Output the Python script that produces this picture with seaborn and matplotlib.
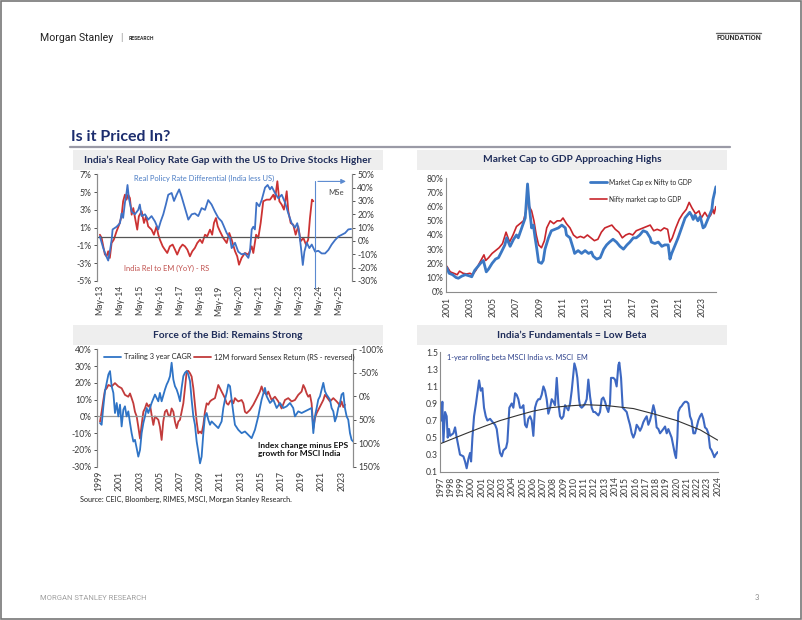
import numpy as np
import pandas as pd
import matplotlib
matplotlib.use("Agg")
import matplotlib.pyplot as plt
import seaborn as sns
from matplotlib.patches import Rectangle
from matplotlib.lines import Line2D

# ------------------------------------------------------------------ data
# Panel 1: India real policy rate gap (LS, %) and India rel. to EM YoY (RS, %)
p1_rate_dates = [2013.33, 2013.50, 2013.63, 2013.75, 2013.83, 2013.92, 2013.97, 2014.17, 2014.34, 2014.42,
                 2014.50, 2014.59, 2014.67, 2014.72, 2014.79, 2014.93, 2015.09, 2015.26, 2015.34, 2015.43,
                 2015.60, 2015.76, 2015.93, 2016.10, 2016.27, 2016.39, 2016.52, 2016.65, 2016.77, 2016.94,
                 2017.06, 2017.19, 2017.32, 2017.44, 2017.61, 2017.78, 2017.95, 2018.11, 2018.28, 2018.45,
                 2018.62, 2018.78, 2018.95, 2019.12, 2019.29, 2019.46, 2019.54, 2019.71, 2019.88, 2019.96,
                 2020.13, 2020.29, 2020.46, 2020.63, 2020.80, 2020.88, 2020.97, 2021.05, 2021.13, 2021.21,
                 2021.35, 2021.47, 2021.64, 2021.77, 2021.89, 2021.98, 2022.14, 2022.31, 2022.48, 2022.65,
                 2022.81, 2022.98, 2023.15, 2023.26, 2023.36, 2023.45, 2023.54, 2023.62, 2023.74, 2023.87,
                 2023.99, 2024.16, 2024.32, 2024.49, 2024.66, 2024.83, 2024.99, 2025.16, 2025.33, 2025.50,
                 2025.67, 2025.83, 2025.97]
p1_rate_vals = [0.0, -1.3, -2.1, -2.7, -1.7, -0.4, 0.8, 1.1, 1.5, 2.6,
                2.1, 3.8, 4.9, 5.8, 4.3, 2.8, 2.5, 3.0, 3.6, 2.3,
                2.5, 1.9, 2.3, 1.7, 0.8, 1.7, 2.5, 3.6, 4.7, 4.9,
                4.0, 4.7, 5.3, 4.5, 3.2, 1.9, 2.5, 2.6, 2.3, 3.2,
                3.0, 4.1, 3.6, 2.8, 2.1, 1.7, 1.3, 0.4, -0.2, -1.3,
                -0.7, -1.7, -2.0, -1.9, -2.4, -1.7, 0.8, 1.1, 0.8, 3.8,
                3.4, 4.1, 5.5, 5.8, 5.3, 5.6, 4.9, 4.3, 4.7, 3.8,
                2.6, 1.5, 1.0, 1.5, 0.4, -1.3, -3.2, -1.7, -0.7, -1.3,
                -0.9, -1.7, -1.6, -1.9, -1.9, -1.5, -0.9, -0.4, 0.0, 0.2,
                0.4, 0.8, 0.85]
p1_rel_dates = [2013.33, 2013.42, 2013.50, 2013.58, 2013.67, 2013.75, 2013.83, 2013.92, 2014.03, 2014.17,
                2014.30, 2014.42, 2014.50, 2014.59, 2014.67, 2014.75, 2014.84, 2014.93, 2015.01, 2015.13,
                2015.21, 2015.29, 2015.43, 2015.55, 2015.65, 2015.76, 2015.93, 2016.05, 2016.18, 2016.27,
                2016.35, 2016.49, 2016.60, 2016.72, 2016.85, 2016.99, 2017.11, 2017.22, 2017.36, 2017.49,
                2017.61, 2017.73, 2017.86, 2017.98, 2018.11, 2018.23, 2018.37, 2018.48, 2018.62, 2018.73,
                2018.87, 2018.98, 2019.07, 2019.17, 2019.26, 2019.37, 2019.54, 2019.71, 2019.84, 2019.96,
                2020.13, 2020.24, 2020.33, 2020.46, 2020.63, 2020.80, 2020.97, 2021.05, 2021.19, 2021.30,
                2021.42, 2021.55, 2021.72, 2021.89, 2022.06, 2022.14, 2022.26, 2022.36, 2022.48, 2022.59,
                2022.73, 2022.81, 2022.93, 2023.06, 2023.18, 2023.31, 2023.43, 2023.57, 2023.70, 2023.81,
                2023.90, 2024.00, 2024.07]
p1_rel_vals = [4.7, 2.2, -4.0, -10.0, -11.5, -7.7, -12.7, -1.5, 1.0, 7.3,
               12.2, 18.5, 29.8, 34.7, 31.0, 34.7, 32.2, 19.7, 24.7, 14.8,
               8.5, 18.5, 22.3, 13.5, 18.5, 11.0, 8.5, 4.7, 11.0, 4.7,
               1.0, -4.0, -6.5, -9.0, -4.0, -2.7, -6.5, -10.2, -5.2, -2.7,
               -4.0, -6.5, -11.5, -7.7, -5.2, -1.5, 1.0, -1.5, 4.7, 3.5,
               8.5, 4.7, 13.5, 17.2, 11.0, 7.3, 2.2, -1.5, 6.0, 1.0,
               -7.7, -11.5, -17.8, -12.7, -9.0, -10.2, -4.0, -9.0, 4.7, 2.2,
               13.5, 29.8, 31.0, 31.0, 34.7, 31.0, 44.8, 29.8, 27.2, 23.5,
               37.3, 22.3, 13.5, 12.2, 4.7, 11.0, -0.2, 2.2, -2.7, 1.0,
               17.2, 31.0, 29.8]
p1_tick_pos = [2013.33 + k for k in range(13)]
p1_tick_labels = ["May-13", "May-14", "May-15", "May-16", "May-17", "May-18", "May-19",
                  "May-20", "May-21", "May-22", "May-23", "May-24", "May-25"]

# Panel 2: market cap to GDP (%)
p2_exnifty_dates = [2001.0, 2001.2, 2001.5, 2001.8, 2002.0, 2002.3, 2002.6, 2003.0, 2003.15, 2003.4,
                    2003.9, 2004.15, 2004.4, 2004.6, 2004.9, 2005.2, 2005.45, 2005.7, 2006.0, 2006.15,
                    2006.45, 2006.75, 2007.0, 2007.15, 2007.45, 2007.75, 2007.95, 2008.1, 2008.3, 2008.45,
                    2008.6, 2008.75, 2008.9, 2009.15, 2009.3, 2009.45, 2009.75, 2010.0, 2010.3, 2010.6,
                    2010.9, 2011.2, 2011.3, 2011.6, 2011.9, 2012.0, 2012.3, 2012.6, 2012.9, 2013.2,
                    2013.45, 2013.6, 2013.9, 2014.2, 2014.5, 2014.75, 2015.0, 2015.3, 2015.6, 2015.9,
                    2016.2, 2016.5, 2016.75, 2017.05, 2017.3, 2017.6, 2017.9, 2018.2, 2018.5, 2018.6,
                    2018.9, 2019.2, 2019.5, 2019.75, 2020.05, 2020.2, 2020.35, 2020.6, 2020.9, 2021.2,
                    2021.5, 2021.8, 2021.9, 2022.05, 2022.2, 2022.35, 2022.6, 2022.8, 2023.05, 2023.2,
                    2023.5, 2023.8, 2023.9, 2024.15]
p2_exnifty_vals = [17, 13, 12, 10, 9.5, 11, 12, 11, 10.5, 15,
                   20, 22, 14, 16, 20, 23, 24, 28, 33, 38,
                   32, 37, 40, 38, 45, 52, 76, 60, 45, 47,
                   38, 30, 21, 20, 22, 30, 38, 43, 44, 45,
                   47, 45, 40, 38, 30, 27, 29, 27, 29, 27,
                   28, 25, 23, 24, 30, 33, 35, 37, 35, 32,
                   30, 33, 35, 38, 38, 40, 43, 42, 38, 35,
                   34, 35, 32, 33, 33, 23, 27, 32, 38, 45,
                   52, 55, 56, 54, 51, 54, 50, 53, 45, 46,
                   52, 58, 65, 74]
p2_nifty_dates = [2001.0, 2001.3, 2001.6, 2001.9, 2002.1, 2002.4, 2002.7, 2003.0, 2003.2, 2003.5,
                  2003.8, 2004.0, 2004.2, 2004.35, 2004.6, 2004.9, 2005.2, 2005.5, 2005.8, 2006.1,
                  2006.4, 2006.7, 2007.0, 2007.3, 2007.6, 2007.85, 2007.95, 2008.1, 2008.3, 2008.5,
                  2008.7, 2008.9, 2009.15, 2009.4, 2009.6, 2009.9, 2010.2, 2010.5, 2010.8, 2011.0,
                  2011.3, 2011.6, 2011.9, 2012.2, 2012.5, 2012.8, 2013.1, 2013.4, 2013.7, 2014.0,
                  2014.3, 2014.6, 2014.9, 2015.2, 2015.5, 2015.8, 2016.1, 2016.4, 2016.7, 2017.0,
                  2017.3, 2017.6, 2017.9, 2018.2, 2018.5, 2018.8, 2019.1, 2019.4, 2019.7, 2020.0,
                  2020.2, 2020.4, 2020.7, 2021.0, 2021.3, 2021.6, 2021.85, 2022.1, 2022.4, 2022.7,
                  2022.9, 2023.2, 2023.5, 2023.7, 2023.9, 2024.0, 2024.15]
p2_nifty_vals = [18, 14, 13, 12, 14.5, 13, 12.5, 13, 12, 15,
                 20, 23, 26, 22, 24, 27, 29, 31, 34, 42,
                 35, 40, 46, 48, 50, 58, 72, 60, 57, 50,
                 40, 33, 31, 36, 45, 50, 48, 50, 50, 52,
                 48, 45, 40, 38, 39, 38, 40, 38, 36, 37,
                 42, 45, 46, 47, 44, 42, 38, 40, 41, 40,
                 43, 44, 45, 46, 47, 43, 44, 43, 45, 44,
                 35, 38, 45, 51, 55, 58, 63, 59, 55, 57,
                 52, 56, 52, 54, 58, 55, 60]
p2_ticks = list(range(2001, 2024, 2))

# Panel 3: trailing 3y CAGR (LS, %) and 12M forward Sensex return (RS reversed, %)
p3_cagr_dates = [1999.07, 1999.23, 1999.40, 1999.56, 1999.73, 1999.90, 2000.06, 2000.22, 2000.39, 2000.55,
                 2000.72, 2000.88, 2001.05, 2001.21, 2001.38, 2001.54, 2001.70, 2001.87, 2002.04, 2002.20,
                 2002.37, 2002.53, 2002.70, 2002.86, 2003.03, 2003.19, 2003.36, 2003.52, 2003.69, 2003.85,
                 2004.18, 2004.51, 2004.84, 2005.00, 2005.17, 2005.50, 2005.67, 2005.83, 2006.00, 2006.16,
                 2006.33, 2006.49, 2006.66, 2006.82, 2006.99, 2007.15, 2007.32, 2007.48, 2007.65, 2007.81,
                 2007.98, 2008.14, 2008.31, 2008.47, 2008.64, 2008.80, 2008.97, 2009.13, 2009.30, 2009.46,
                 2009.63, 2009.79, 2009.96, 2010.12, 2010.45, 2010.78, 2011.11, 2011.28, 2011.44, 2011.61,
                 2011.77, 2011.94, 2012.10, 2012.27, 2012.43, 2012.76, 2013.09, 2013.42, 2013.75, 2014.08,
                 2014.41, 2014.74, 2014.90, 2015.07, 2015.40, 2015.57, 2015.90, 2016.23, 2016.56, 2016.89,
                 2017.22, 2017.55, 2017.88, 2018.20, 2018.37, 2018.70, 2019.03, 2019.36, 2019.69, 2020.02,
                 2020.19, 2020.35, 2020.52, 2020.68, 2020.85, 2021.18, 2021.34, 2021.50, 2021.84, 2022.00,
                 2022.17, 2022.33, 2022.50, 2022.66, 2022.83, 2022.99, 2023.16, 2023.32, 2023.49, 2023.65,
                 2023.82, 2023.98, 2024.15]
p3_cagr_vals = [-4, -5, 6, 15, 20, 25, 27, 18, 14, 2,
                8, 0, 7, -6, 4, 6, 0, 3, -4, -10,
                -15, -14, -19, -24, -20, -10, -4, 0, 5, 2,
                8, 13, 9, 14, 9, 16, 19, 21, 24, 32,
                22, 18, 16, 13, 9, 17, 24, 26, 27, 25,
                21, 10, 0, -5, -15, -21, -28, -24, -10, 0,
                2, -2, -5, -3, -5, -7, -3, 5, 10, 14,
                19, 18, 10, 2, -5, -8, -10, -9, -11, -13,
                -8, 0, 5, 10, 17, 12, 8, 10, 5, 8,
                5, 6, 8, 5, 0, 3, 2, 3, 4, 5,
                -10, 0, 5, 10, 12, 20, 15, 13, 10, 5,
                3, -3, 0, 5, 8, 13, 14, 5, 0, -2,
                -10, -14, -15]
p3_fwd_dates = [1999.07, 1999.23, 1999.40, 1999.56, 1999.73, 1999.90, 2000.22, 2000.55, 2000.88, 2001.21,
                2001.54, 2001.87, 2002.04, 2002.20, 2002.37, 2002.53, 2002.70, 2002.86, 2003.03, 2003.19,
                2003.36, 2003.52, 2003.69, 2003.85, 2004.02, 2004.18, 2004.35, 2004.51, 2004.84, 2005.00,
                2005.17, 2005.33, 2005.50, 2005.67, 2005.83, 2006.00, 2006.16, 2006.33, 2006.49, 2006.66,
                2006.82, 2006.99, 2007.15, 2007.32, 2007.48, 2007.65, 2007.81, 2007.98, 2008.14, 2008.31,
                2008.47, 2008.64, 2008.80, 2008.97, 2009.13, 2009.30, 2009.46, 2009.63, 2009.79, 2009.96,
                2010.12, 2010.45, 2010.62, 2010.78, 2010.95, 2011.11, 2011.28, 2011.44, 2011.61, 2011.77,
                2011.94, 2012.10, 2012.27, 2012.43, 2012.60, 2012.76, 2013.09, 2013.26, 2013.42, 2013.59,
                2013.92, 2014.25, 2014.58, 2014.90, 2015.07, 2015.24, 2015.57, 2015.73, 2016.06, 2016.39,
                2016.72, 2017.05, 2017.38, 2017.71, 2018.04, 2018.37, 2018.70, 2019.03, 2019.20, 2019.36,
                2019.53, 2019.69, 2019.86, 2020.02, 2020.19, 2020.35, 2020.52, 2020.85, 2021.18, 2021.34,
                2021.50, 2021.84, 2022.17, 2022.50, 2022.66, 2022.83, 2022.99, 2023.16, 2023.32]
p3_fwd_vals = [54, 33, 8, -13, -17, -24, -21, -28, -21, -17,
               -3, 1, -6, 4, 15, 33, 43, 65, 90, 61,
               33, 26, 15, 22, 18, 40, 61, 43, 50, 65,
               93, 54, 33, 29, 40, 43, 26, 33, 54, 68,
               54, 50, 33, 15, -17, -53, -54, -49, -42, -17,
               18, 54, 79, 75, 79, 61, 33, 15, 18, 11,
               8, 4, -10, -24, -17, -10, -3, 4, 15, 18,
               11, 8, 15, 4, 8, 11, 8, 15, 33, 36,
               29, 18, 4, -10, -21, -10, -3, -10, 8, 1,
               11, 26, 8, 4, 11, 8, -3, -10, -24, -17,
               -6, 1, -3, 15, 68, 47, 36, 22, 8, -3,
               1, 11, 4, 11, 15, 22, 11, 23, 18]
p3_ticks = list(range(1999, 2024, 2))

# Panel 4: 1-year rolling beta MSCI India vs MSCI EM, plus trend line
p4_beta_dates = [1997.00, 1997.06, 1997.16, 1997.26, 1997.42, 1997.58, 1997.68, 1997.81, 1997.91, 1998.23,
                 1998.40, 1998.56, 1998.72, 1998.88, 1999.21, 1999.37, 1999.53, 1999.70, 1999.86, 1999.96,
                 2000.09, 2000.25, 2000.44, 2000.61, 2000.74, 2000.90, 2001.06, 2001.22, 2001.39, 2001.55,
                 2001.81, 2002.07, 2002.30, 2002.46, 2002.62, 2002.78, 2002.95, 2003.11, 2003.37, 2003.50,
                 2003.69, 2003.92, 2004.08, 2004.25, 2004.41, 2004.57, 2004.73, 2004.89, 2005.06, 2005.22,
                 2005.38, 2005.54, 2005.71, 2005.87, 2006.03, 2006.19, 2006.36, 2006.52, 2006.68, 2006.84,
                 2007.01, 2007.17, 2007.33, 2007.49, 2007.66, 2007.82, 2007.98, 2008.14, 2008.31, 2008.47,
                 2008.63, 2008.79, 2008.96, 2009.12, 2009.28, 2009.44, 2009.61, 2009.77, 2009.93, 2010.03,
                 2010.19, 2010.32, 2010.48, 2010.58, 2010.74, 2010.91, 2011.07, 2011.23, 2011.39, 2011.56,
                 2011.72, 2011.88, 2012.04, 2012.20, 2012.37, 2012.53, 2012.69, 2012.85, 2013.02, 2013.18,
                 2013.34, 2013.50, 2013.60, 2013.83, 2013.99, 2014.15, 2014.32, 2014.41, 2014.58, 2014.74,
                 2014.97, 2015.13, 2015.29, 2015.45, 2015.62, 2015.78, 2015.94, 2016.10, 2016.27, 2016.43,
                 2016.59, 2016.75, 2016.92, 2017.08, 2017.24, 2017.40, 2017.57, 2017.73, 2017.89, 2018.05,
                 2018.22, 2018.38, 2018.70, 2018.87, 2019.03, 2019.19, 2019.35, 2019.51, 2019.68, 2019.84,
                 2019.94, 2020.07, 2020.16, 2020.33, 2020.49, 2020.65, 2020.81, 2020.98, 2021.14, 2021.30,
                 2021.46, 2021.63, 2021.79, 2021.95, 2022.11, 2022.28, 2022.44, 2022.60, 2022.76, 2022.93,
                 2023.09, 2023.25, 2023.41, 2023.58, 2023.67, 2023.80, 2024.00]
p4_beta_vals = [0.86, 0.70, 0.92, 0.45, 0.80, 0.75, 0.50, 0.60, 0.52, 0.55,
                0.62, 0.50, 0.40, 0.30, 0.28, 0.22, 0.14, 0.25, 0.32, 0.22,
                0.50, 0.75, 0.90, 1.05, 1.17, 1.05, 1.08, 0.85, 0.75, 0.70,
                0.72, 0.68, 0.65, 0.60, 0.45, 0.32, 0.28, 0.35, 0.38, 0.45,
                0.85, 0.90, 0.85, 1.02, 1.00, 0.95, 0.85, 0.85, 0.88, 0.65,
                0.62, 0.72, 0.75, 0.70, 0.52, 0.85, 0.92, 0.95, 0.95, 1.00,
                1.10, 1.05, 0.95, 0.78, 0.85, 0.95, 0.92, 0.88, 1.20, 0.90,
                0.75, 0.72, 0.75, 0.88, 0.85, 0.82, 0.90, 1.05, 1.25, 1.37,
                1.30, 1.20, 0.95, 0.87, 0.85, 0.87, 0.90, 0.95, 1.18, 0.98,
                0.85, 0.80, 0.80, 0.78, 0.76, 0.80, 0.95, 0.97, 0.92, 0.85,
                0.80, 0.90, 1.20, 1.20, 1.18, 1.10, 1.35, 1.38, 1.20, 0.85,
                0.82, 0.80, 0.72, 0.65, 0.55, 0.50, 0.55, 0.65, 0.62, 0.58,
                0.62, 0.68, 0.72, 0.75, 0.65, 0.70, 0.78, 0.88, 0.80, 0.62,
                0.60, 0.55, 0.60, 0.63, 0.55, 0.60, 0.55, 0.50, 0.40, 0.30,
                0.26, 0.50, 0.80, 0.85, 0.87, 0.90, 0.92, 0.92, 0.90, 0.75,
                0.70, 0.55, 0.55, 0.62, 0.70, 0.75, 0.78, 0.72, 0.62, 0.60,
                0.55, 0.38, 0.35, 0.30, 0.27, 0.30, 0.33]
p4_trend_dates = [1997.0, 1999.5, 2001.2, 2002.8, 2004.5, 2006.0, 2007.7, 2009.3, 2011.2, 2013.2,
                  2015.8, 2017.7, 2020.0, 2022.3, 2024.0]
p4_trend_vals = [0.43, 0.55, 0.63, 0.70, 0.76, 0.81, 0.85, 0.87, 0.885, 0.875,
                 0.84, 0.78, 0.70, 0.59, 0.47]
p4_ticks = list(range(1997, 2025))

# ------------------------------------------------------------------ style
sns.set_theme(style="white")
plt.rcParams["font.family"] = ["Lato", "DejaVu Sans"]
plt.rcParams["axes.linewidth"] = 0.8

W, H = 802, 620
fig = plt.figure(figsize=(W / 100, H / 100), dpi=100)
fig.patch.set_facecolor("white")

NAVY = "#1f2d5a"
TICKC = "#3a3a3a"
AXC = "#8c8c8c"
BLUE = "#3f72c6"
RED = "#cc3333"


def box(l, t, r, b):
    return [l / W, 1 - b / H, (r - l) / W, (b - t) / H]


def fx(x):
    return x / W


def fy(y):
    return 1 - y / H


# outer frame
fig.add_artist(Rectangle((0.001, 0.001), 0.998, 0.997, transform=fig.transFigure,
                         fill=False, edgecolor="#777777", lw=1.2))

# header
fig.text(fx(40), fy(38), "Morgan Stanley", fontsize=7.6, color="#222222", va="center", ha="left",
         family=["Roboto", "DejaVu Sans"])
fig.text(fx(120), fy(38), "|", fontsize=6.5, color="#888888", va="center", ha="left")
fig.text(fx(129), fy(38.5), "RESEARCH", fontsize=3.6, color="#333333", va="center", ha="left",
         family=["Roboto", "DejaVu Sans"], weight="bold")
fig.text(fx(761), fy(38.5), "FOUNDATION", fontsize=5.2, color="#333333", va="center", ha="right",
         family=["Roboto", "DejaVu Sans"], weight="bold")
fig.add_artist(Line2D([fx(716), fx(761)], [fy(33), fy(33)], color="#666666", lw=1.0))

# main title
fig.text(fx(71), fy(137), "Is it Priced In?", fontsize=11.5, color="#1c2d6e", weight="bold",
         va="center", ha="left")
fig.add_artist(Line2D([fx(70), fx(730)], [fy(146.5), fy(146.5)], color="#9a9aa6", lw=1.6))

# panel title bands
bands = [
    (73, 150, 383, 170, "India\u2019s Real Policy Rate Gap with the US to Drive Stocks Higher"),
    (417, 150, 727, 170, "Market Cap to GDP Approaching Highs"),
    (73, 325, 383, 345, "Force of the Bid: Remains Strong"),
    (417, 325, 727, 345, "India\u2019s Fundamentals = Low Beta"),
]
for l, t, r, b, txt in bands:
    fig.add_artist(Rectangle((fx(l), fy(b)), (r - l) / W, (b - t) / H, transform=fig.transFigure,
                             facecolor="#eeeeee", edgecolor="none"))
    fig.text(fx((l + r) / 2), fy((t + b) / 2), txt, fontsize=7.3, color=NAVY, weight="bold",
             ha="center", va="center")


def style_ticks(ax, size=6.2):
    ax.tick_params(axis="both", labelsize=size, colors=TICKC, length=2.5, width=0.6,
                   direction="out", pad=1.5)
    for sp in ax.spines.values():
        sp.set_color(AXC)
        sp.set_linewidth(0.8)


# ------------------------------------------------------------------ panel 1
ax1 = fig.add_axes(box(96.7, 174.3, 351.7, 281))
ax1r = ax1.twinx()
df1a = pd.DataFrame({"date": p1_rate_dates, "val": p1_rate_vals})
df1b = pd.DataFrame({"date": p1_rel_dates, "val": p1_rel_vals})
sns.lineplot(data=df1b, x="date", y="val", ax=ax1r, color=RED, lw=1.3, estimator=None, sort=False)
sns.lineplot(data=df1a, x="date", y="val", ax=ax1, color=BLUE, lw=1.3, estimator=None, sort=False)
ax1.set_zorder(ax1r.get_zorder() + 1)
ax1.patch.set_visible(False)
ax1.set_xlim(2013.17, 2026.0)
ax1.set_ylim(-5, 7)
ax1r.set_ylim(-30, 50)
ax1.set_yticks([-5, -3, -1, 1, 3, 5, 7])
ax1.set_yticklabels([f"{v}%" for v in [-5, -3, -1, 1, 3, 5, 7]])
ax1r.set_yticks(list(range(-30, 51, 10)))
ax1r.set_yticklabels([f"{v}%" for v in range(-30, 51, 10)])
ax1.set_xticks(p1_tick_pos)
ax1.set_xticklabels(p1_tick_labels, rotation=90)
for a in (ax1, ax1r):
    style_ticks(a)
    a.set_xlabel("")
    a.set_ylabel("")
    a.spines["top"].set_visible(False)
    a.spines["bottom"].set_visible(False)
ax1.tick_params(axis="x", length=0, pad=3)
ax1.axhline(0, color="#555555", lw=0.9, zorder=0)
ax1.text(2015.04, 6.5, "Real Policy Rate Differential (India less US)", color="#4a7cc4", fontsize=5.4,
         ha="left", va="center")
ax1.text(2014.54, -3.55, "India Rel to EM (YoY) - RS", color="#c0504d", fontsize=5.4,
         ha="left", va="center")
# MS estimates marker
ax1.plot([2024.16, 2024.16], [6.2, -5.8], color="#5b8ad0", lw=0.8, clip_on=False)
ax1.annotate("", xy=(2025.85, 6.2), xytext=(2024.16, 6.2),
             arrowprops=dict(arrowstyle="-|>", color="#5b8ad0", lw=0.8, mutation_scale=7))
ax1.text(2025.2, 4.95, "MSe", fontsize=5.6, color="#444444", ha="center", va="center")

# ------------------------------------------------------------------ panel 2
ax2 = fig.add_axes(box(445.7, 178.3, 716, 291.7))
df2a = pd.DataFrame({"date": p2_exnifty_dates, "val": p2_exnifty_vals})
df2b = pd.DataFrame({"date": p2_nifty_dates, "val": p2_nifty_vals})
sns.lineplot(data=df2b, x="date", y="val", ax=ax2, color="#c8262c", lw=1.2, estimator=None, sort=False)
sns.lineplot(data=df2a, x="date", y="val", ax=ax2, color="#3b78c4", lw=2.0, estimator=None, sort=False)
ax2.set_xlim(2000.91, 2024.16)
ax2.set_ylim(0, 80)
ax2.set_yticks(list(range(0, 81, 10)))
ax2.set_yticklabels([f"{v}%" for v in range(0, 81, 10)])
ax2.set_xticks(p2_ticks)
ax2.set_xticklabels([str(t) for t in p2_ticks], rotation=90)
style_ticks(ax2)
ax2.set_xlabel("")
ax2.set_ylabel("")
ax2.spines["top"].set_visible(False)
ax2.spines["right"].set_visible(False)
ax2.tick_params(axis="y", length=0)
h2 = [Line2D([], [], color="#3b78c4", lw=2.0), Line2D([], [], color="#c8262c", lw=1.2)]
ax2.legend(h2, ["Market Cap ex Nifty to GDP", "Nifty market cap to GDP"], loc="upper left",
           bbox_to_anchor=((587 - 445.7) / (716 - 445.7), 1.02), frameon=False, fontsize=4.8,
           handlelength=2.6, handletextpad=0.3, labelspacing=1.5, borderaxespad=0)

# ------------------------------------------------------------------ panel 3
ax3 = fig.add_axes(box(97.3, 349.3, 352.7, 466.7))
ax3r = ax3.twinx()
df3a = pd.DataFrame({"date": p3_cagr_dates, "val": p3_cagr_vals})
df3b = pd.DataFrame({"date": p3_fwd_dates, "val": p3_fwd_vals})
sns.lineplot(data=df3b, x="date", y="val", ax=ax3r, color="#c23b3b", lw=1.3, estimator=None, sort=False)
sns.lineplot(data=df3a, x="date", y="val", ax=ax3, color="#2f74c6", lw=1.3, estimator=None, sort=False)
ax3.set_zorder(ax3r.get_zorder() + 1)
ax3.patch.set_visible(False)
ax3.set_xlim(1998.8, 2024.09)
ax3.set_ylim(-30, 40)
ax3r.set_ylim(150, -100)
ax3.set_yticks(list(range(-30, 41, 10)))
ax3.set_yticklabels([f"{v}%" for v in range(-30, 41, 10)])
ax3r.set_yticks(list(range(-100, 151, 50)))
ax3r.set_yticklabels([f"{v}%" for v in range(-100, 151, 50)])
ax3.set_xticks(p3_ticks)
ax3.set_xticklabels([str(t) for t in p3_ticks], rotation=90)
for a in (ax3, ax3r):
    style_ticks(a)
    a.set_xlabel("")
    a.set_ylabel("")
    a.spines["top"].set_visible(False)
    a.spines["bottom"].set_visible(False)
ax3.tick_params(axis="x", length=0, pad=3)
ax3.axhline(0, color="#999999", lw=0.9, zorder=0)
h3 = [Line2D([], [], color="#2f74c6", lw=1.3), Line2D([], [], color="#c23b3b", lw=1.3)]
ax3.legend(h3, ["Trailing 3 year CAGR", "12M forward Sensex Return (RS - reversed)"], loc="upper left",
           bbox_to_anchor=(0.012, 1.0), ncol=2, frameon=False, fontsize=5.3, handlelength=2.3,
           handletextpad=0.4, columnspacing=0.3, borderaxespad=0.15)
ax3.text(2014.75, -19.8, "Index change minus EPS\ngrowth for MSCI India", fontsize=6.0, weight="bold",
         color="#111111", ha="left", va="center", linespacing=1.25)

fig.text(fx(80), fy(499), "Source: CEIC, Bloomberg, RIMES, MSCI, Morgan Stanley Research.",
         fontsize=5.25, color="#222222", ha="left", va="center")

# ------------------------------------------------------------------ panel 4
ax4 = fig.add_axes(box(440, 352.3, 718.3, 471.7))
df4a = pd.DataFrame({"date": p4_beta_dates, "val": p4_beta_vals})
df4b = pd.DataFrame({"date": p4_trend_dates, "val": p4_trend_vals})
sns.lineplot(data=df4a, x="date", y="val", ax=ax4, color="#3d68c2", lw=1.5, estimator=None, sort=False)
sns.lineplot(data=df4b, x="date", y="val", ax=ax4, color="#333333", lw=0.8, estimator=None, sort=False)
ax4.set_xlim(1996.93, 2024.06)
ax4.set_ylim(0.1, 1.5)
ax4.set_yticks([0.1, 0.3, 0.5, 0.7, 0.9, 1.1, 1.3, 1.5])
ax4.set_yticklabels([f"{v:.1f}" for v in [0.1, 0.3, 0.5, 0.7, 0.9, 1.1, 1.3, 1.5]])
ax4.set_xticks(p4_ticks)
ax4.set_xticklabels([str(t) for t in p4_ticks], rotation=90)
style_ticks(ax4)
ax4.set_xlabel("")
ax4.set_ylabel("")
ax4.spines["top"].set_visible(False)
ax4.spines["right"].set_visible(False)
ax4.tick_params(axis="y", length=0)
ax4.tick_params(axis="x", length=2)
ax4.text(1997.6, 1.44, "1-year rolling beta MSCI India vs. MSCI  EM", fontsize=5.3, color="#2b3f8a",
         ha="left", va="center")

# footer
fig.text(fx(40), fy(598), "MORGAN STANLEY RESEARCH", fontsize=5.5, color="#a0a0a0", ha="left",
         va="center", family=["Roboto", "DejaVu Sans"])
fig.text(fx(759), fy(598), "3", fontsize=5.5, color="#888888", ha="right", va="center")

fig.savefig("out.png", dpi=100, facecolor="white")
